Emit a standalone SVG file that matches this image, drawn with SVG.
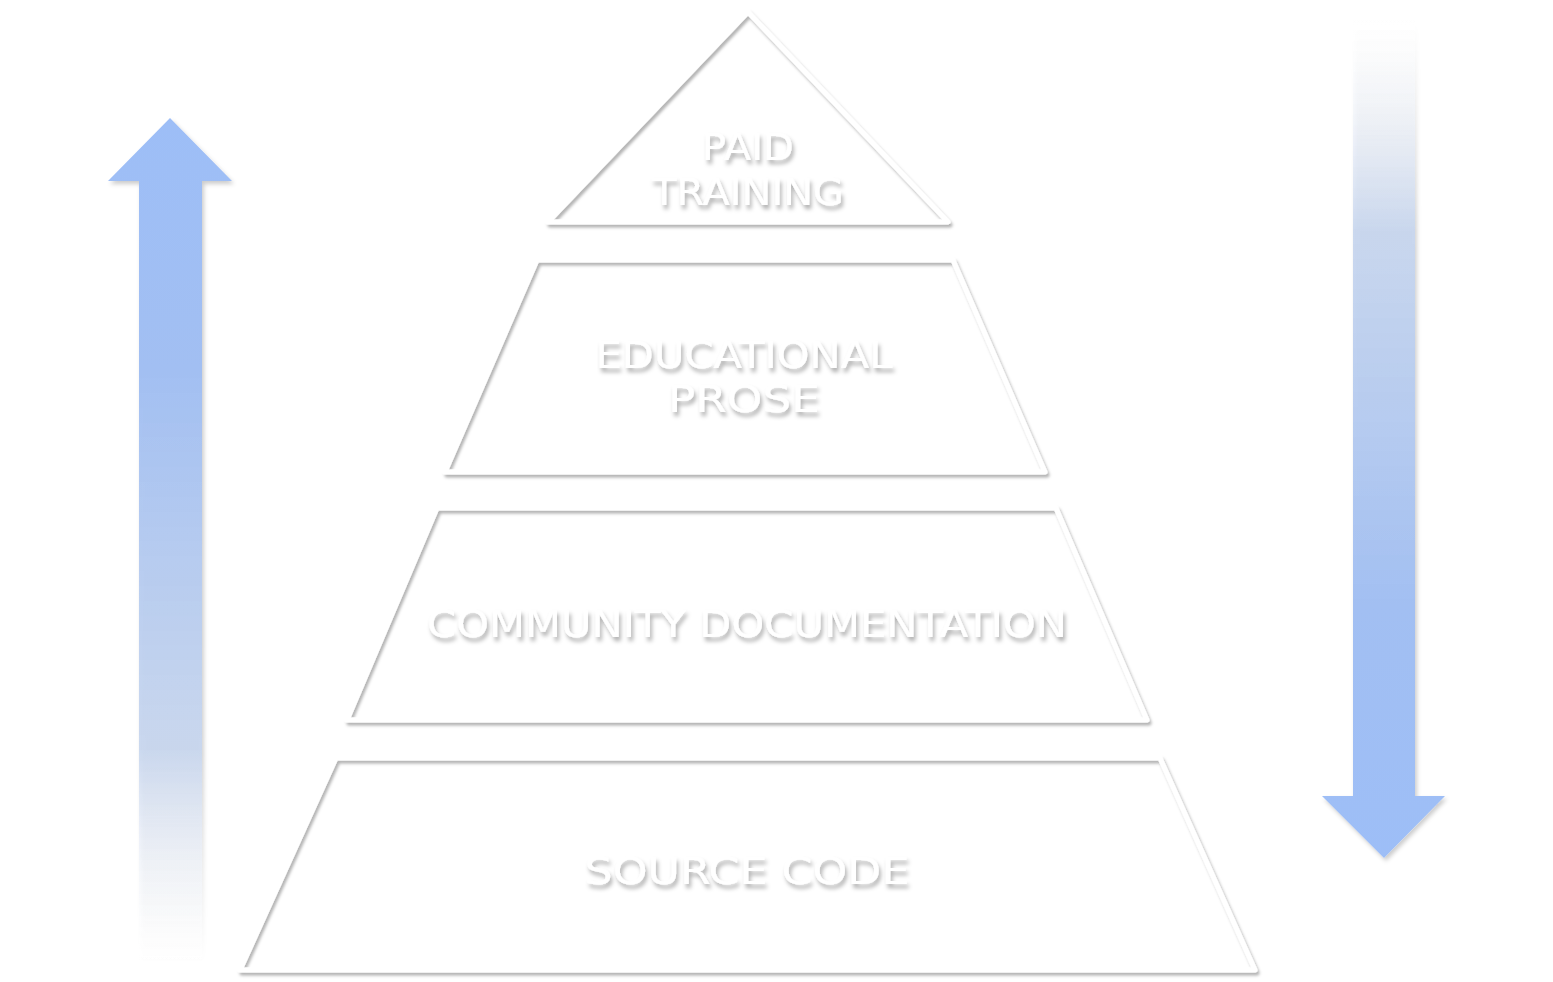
<svg xmlns="http://www.w3.org/2000/svg" width="1553" height="982" viewBox="0 0 1553 982">
<defs>
<filter id="sh" x="-10%" y="-10%" width="120%" height="120%">
<feDropShadow dx="2" dy="3" stdDeviation="1.8" flood-color="#000" flood-opacity="0.3"/>
</filter>
<filter id="tsh" x="-10%" y="-20%" width="120%" height="150%">
<feDropShadow dx="2" dy="4" stdDeviation="2.2" flood-color="#000" flood-opacity="0.32"/>
</filter>
<filter id="ash" x="-20%" y="-5%" width="140%" height="110%">
<feDropShadow dx="2" dy="3" stdDeviation="2" flood-color="#000" flood-opacity="0.2"/>
</filter>
<linearGradient id="gup" gradientUnits="userSpaceOnUse" x1="0" y1="118" x2="0" y2="960">
<stop offset="0" stop-color="#9dbef7"/>
<stop offset="0.3" stop-color="#a2bff2"/>
<stop offset="0.75" stop-color="#c6d5ee" stop-opacity="0.9"/>
<stop offset="1" stop-color="#ffffff" stop-opacity="0"/>
</linearGradient>
<linearGradient id="gdown" gradientUnits="userSpaceOnUse" x1="0" y1="20" x2="0" y2="858">
<stop offset="0" stop-color="#ffffff" stop-opacity="0"/>
<stop offset="0.25" stop-color="#c6d5ee" stop-opacity="0.9"/>
<stop offset="0.7" stop-color="#a2bff2"/>
<stop offset="1" stop-color="#9dbef7"/>
</linearGradient>
<style>
.lvl{fill:none;stroke:#ffffff;stroke-width:5;stroke-linejoin:round;filter:url(#sh)}
.lbl{font-family:"DejaVu Sans",sans-serif;font-weight:normal;font-size:38px;fill:#ffffff;text-anchor:middle;filter:url(#tsh)}
</style>
</defs>
<rect width="1553" height="982" fill="#ffffff"/>
<g id="arrows">
<path id="arrow-up" d="M170,118 L232,181 L202,181 L202,960 L139,960 L139,181 L108,181 Z" fill="url(#gup)" filter="url(#ash)"/>
<path id="arrow-down" d="M1353,20 L1415,20 L1415,796 L1445,796 L1384,858 L1322,796 L1353,796 Z" fill="url(#gdown)" filter="url(#ash)"/>
</g>
<g id="level-paid">
<path class="lvl" d="M748,12 L948,222 L548,222 Z"/>
<text class="lbl" x="748" y="160" textLength="92" lengthAdjust="spacingAndGlyphs">PAID</text>
<text class="lbl" x="748" y="205" textLength="192" lengthAdjust="spacingAndGlyphs">TRAINING</text>
</g>
<g id="level-educational">
<path class="lvl" d="M537,260 L953,260 L1045,472 L445,472 Z"/>
<text class="lbl" x="744" y="368" textLength="297" lengthAdjust="spacingAndGlyphs">EDUCATIONAL</text>
<text class="lbl" x="744" y="412" textLength="152" lengthAdjust="spacingAndGlyphs">PROSE</text>
</g>
<g id="level-community">
<path class="lvl" d="M437,508 L1056,508 L1147,720 L347,720 Z"/>
<text class="lbl" x="747" y="637" textLength="640" lengthAdjust="spacingAndGlyphs">COMMUNITY DOCUMENTATION</text>
</g>
<g id="level-source">
<path class="lvl" d="M336,758 L1160,758 L1255,970 L240,970 Z"/>
<text class="lbl" x="747" y="884" textLength="325" lengthAdjust="spacingAndGlyphs">SOURCE CODE</text>
</g>
</svg>
